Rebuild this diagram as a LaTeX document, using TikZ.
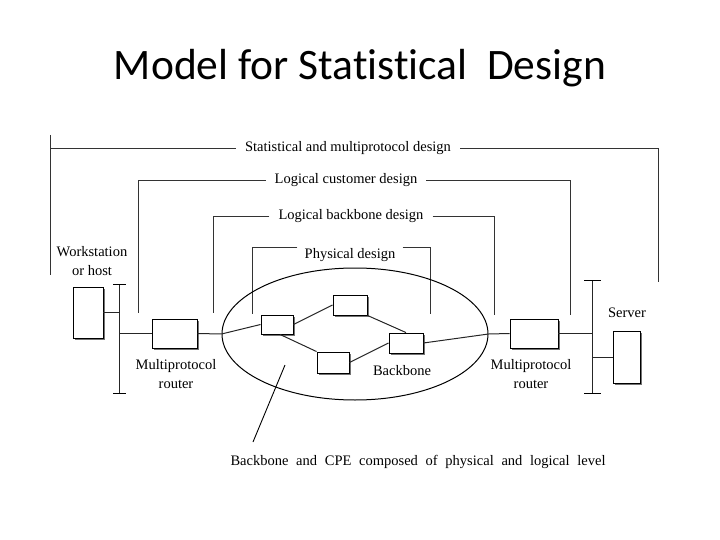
\documentclass[tikz,border=0pt]{standalone}
\usepackage{fontspec}
\setmainfont{Liberation Serif}
\newfontfamily\titlefont[Ligatures=NoCommon]{Carlito}
\usetikzlibrary{shapes.geometric,shadows}
\begin{document}
\begin{tikzpicture}[x=1pt,y=-1pt,
  lbl/.style={font=\fontsize{14.5}{19}\selectfont, inner sep=0pt, align=center},
  brk/.style={line width=0.9pt, draw=black!80},
  wire/.style={line width=1pt, draw=black!85},
  dev/.style={draw=black, line width=0.9pt, fill=white, inner sep=0pt,
    drop shadow={shadow xshift=1.6pt, shadow yshift=-1.6pt, fill=black!55, opacity=1}},
  buscap/.style={line width=1pt}]
\useasboundingbox (0,0) rectangle (720,540);
\node[font=\titlefont\fontsize{43.5}{50}\selectfont, inner sep=0pt] (title) at (360,68) {Model for Statistical\ \ Design};

% bracket 1
\node[lbl] (stat) at (348,148) {Statistical and multiprotocol design};
\coordinate (s1t) at (50,135); \coordinate (s1) at (50,148); \coordinate (s1b) at (50,275);
\coordinate (s2) at (658,148); \coordinate (s2b) at (658,282);
\draw[brk] (s1t) -- (s1b);
\draw[brk] ([xshift=-9pt]stat.west) -- (s1);
\draw[brk] ([xshift=9pt]stat.east) -- (s2) -- (s2b);

% bracket 2
\node[lbl] (cust) at (346,180) {Logical customer design};
\coordinate (c1) at (138,180); \coordinate (c1b) at (138,313);
\coordinate (c2) at (570,180); \coordinate (c2b) at (570,315);
\draw[brk] ([xshift=-9pt]cust.west) -- (c1) -- (c1b);
\draw[brk] ([xshift=9pt]cust.east) -- (c2) -- (c2b);

% bracket 3
\node[lbl] (bb) at (351,216) {Logical backbone design};
\coordinate (b1) at (213,216); \coordinate (b1b) at (213,313);
\coordinate (b2) at (494,216); \coordinate (b2b) at (494,315);
\draw[brk] ([xshift=-9pt]bb.west) -- (b1) -- (b1b);
\draw[brk] ([xshift=9pt]bb.east) -- (b2) -- (b2b);

% bracket 4
\node[lbl] (phys) at (350,255) {Physical design};
\coordinate (p1) at (252,247); \coordinate (p1b) at (252,314);
\coordinate (p2) at (430,247); \coordinate (p2b) at (430,314);
\draw[brk] ([xshift=-7pt]phys.west |- p1) -- (p1) -- (p1b);
\draw[brk] ([xshift=7pt]phys.east |- p2) -- (p2) -- (p2b);

% left side
\node[lbl] (wslbl) at (92,261) {Workstation\\or host};
\node[dev, minimum width=30pt, minimum height=51pt] (ws) at (88,312.5) {};
\coordinate (lbT) at (119,284); \coordinate (lbB) at (119,393);
\draw[wire] (lbT) -- (lbB);
\draw[buscap] ([xshift=-6pt]lbT) -- ([xshift=7pt]lbT);
\draw[buscap] ([xshift=-6pt]lbB) -- ([xshift=7pt]lbB);
\node[dev, minimum width=45pt, minimum height=29pt] (rl) at (174.5,333.5) {};
\node[lbl] (rllbl) at (176,374.5) {Multiprotocol\\router};
\draw[wire] (ws.east) -- (ws.east -| lbT);
\draw[wire] (lbT |- rl.west) -- (rl.west);

% backbone cloud
\node[draw, ellipse, line width=1pt, minimum width=266pt, minimum height=132pt, inner sep=0pt] (cloud) at (355,334) {};
\node[dev, minimum width=32pt, minimum height=19pt] (a) at (277,324.5) {};
\node[dev, minimum width=34pt, minimum height=20pt] (b) at (350,305) {};
\node[dev, minimum width=32pt, minimum height=21pt] (c) at (333,362.5) {};
\node[dev, minimum width=34pt, minimum height=20pt] (d) at (406,343) {};
\node[lbl] (dlbl) at (402,371) {Backbone};
\draw[wire] (rl.east) -- (cloud.west);
\draw[wire] (cloud.west) -- (a.west);
\draw[wire] (a.east) -- (b.west);
\draw[wire] ([xshift=3pt]a.south) -- (c.north west);
\draw[wire] (c.east) -- (d.west);
\draw[wire] (b.south east) -- (d.north);
\draw[wire] (d.east) -- (cloud.east);

% right side
\node[dev, minimum width=48pt, minimum height=29pt] (rr) at (534,333.5) {};
\node[lbl] (rrlbl) at (531,374.5) {Multiprotocol\\router};
\coordinate (rbT) at (592,280); \coordinate (rbB) at (592,393);
\draw[wire] (rbT) -- (rbB);
\draw[buscap] ([xshift=-8pt]rbT) -- ([xshift=9pt]rbT);
\draw[buscap] ([xshift=-8pt]rbB) -- ([xshift=9pt]rbB);
\node[lbl] (srvlbl) at (627,313) {Server};
\node[dev, minimum width=27pt, minimum height=52pt] (srv) at (626.5,357) {};
\draw[wire] (cloud.east) -- (rr.west);
\draw[wire] (rr.east) -- (rr.east -| rbT);
\draw[wire] (srv.west) -- (srv.west -| rbT);

% bottom caption
\node[lbl] (bcpe) at (418,462) {\makebox[375pt][s]{Backbone and CPE composed of physical and logical level}};
\coordinate (ptrA) at (253,442); \coordinate (ptrB) at (285,365);
\draw[line width=0.9pt] (ptrA) -- (ptrB);
\end{tikzpicture}
\end{document}
